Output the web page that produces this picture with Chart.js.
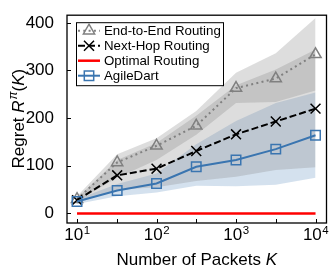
<!DOCTYPE html>
<html>
<head>
<meta charset="utf-8">
<script src="https://cdn.jsdelivr.net/npm/chart.js@4.4.1/dist/chart.umd.min.js"></script>
<style>
    body { margin: 0; background: #fff; }
    canvas { display: block; }
</style>
</head>
<body>
<canvas id="regretChart" width="335" height="269"></canvas>
<script>

// ------------------------
// Data
// ------------------------

const packets = [10, 32, 100, 316, 1000, 3162, 10000];

const seriesNames = ["End-to-End Routing", "Next-Hop Routing", "Optimal Routing", "AgileDart"];

const e2eMean = [30, 107, 142, 184, 263, 283, 334];
const e2eLow  = [26, 75, 112, 165, 232, 234, 258];
const e2eHigh = [36, 124, 158, 215, 295, 336, 410];

const nhMean = [28, 80, 94, 131, 166, 193, 220];
const nhLow  = [24, 50, 55, 68, 77, 91, 97];
const nhHigh = [32, 112, 148, 205, 269, 302, 344];

const optMean = [0, 0, 0, 0, 0, 0, 0];

const adMean = [25, 48, 63, 98, 112, 135, 164];
const adLow  = [20, 36, 44, 58, 57, 60, 75];
const adHigh = [30, 62, 84, 145, 194, 232, 254];

const yTicks = [0, 100, 200, 300, 400];
const xTicks = [10, 100, 1000, 10000];
const xTickExps = ["1", "2", "3", "4"];
const xMinorTicks = [32, 316, 3162];

// ------------------------
// Styles
// ------------------------

const FONT = "'Liberation Sans', Arial, sans-serif";
const GRAY = "#808080";
const BLUE = "#3a75b0";
const RED = "#ff0000";
const GRAY_BAND = "rgba(128,128,128,0.27)";
const BLUE_BAND = "rgba(58,117,176,0.22)";

function pts(ys) {
    return packets.map((k, i) => ({ x: k, y: ys[i] }));
}

function band(ys, fill, color) {
    return {
        data: pts(ys),
        fill: fill,
        backgroundColor: color,
        borderWidth: 0,
        pointRadius: 0
    };
}

// ------------------------
// Marker helpers (legend)
// ------------------------

function drawMarker(ctx, style, x, y, color) {
    ctx.save();
    ctx.setLineDash([]);
    ctx.strokeStyle = color;
    ctx.lineWidth = 1.5;
    ctx.beginPath();
    if (style === "triangle") {
        const r = 6.5;
        ctx.moveTo(x, y - r);
        ctx.lineTo(x + r * 0.866, y + r * 0.5);
        ctx.lineTo(x - r * 0.866, y + r * 0.5);
        ctx.closePath();
    } else if (style === "crossRot") {
        const r = 5;
        ctx.moveTo(x - r, y - r); ctx.lineTo(x + r, y + r);
        ctx.moveTo(x + r, y - r); ctx.lineTo(x - r, y + r);
    } else if (style === "rect") {
        const s = 4.7;
        ctx.rect(x - s, y - s, 2 * s, 2 * s);
    }
    ctx.stroke();
    ctx.restore();
}

// ------------------------
// Frame, ticks, titles, legend
// ------------------------

const decor = {

    id: "decor",

    afterDraw(chart) {

        const { ctx, chartArea: a, scales: { x, y } } = chart;

        ctx.save();

        // inward tick marks
        ctx.strokeStyle = "#000";
        ctx.lineWidth = 1;
        ctx.beginPath();
        yTicks.forEach(v => {
            const py = Math.round(y.getPixelForValue(v)) + 0.5;
            ctx.moveTo(a.left, py); ctx.lineTo(a.left + 4, py);
        });
        xTicks.concat(xMinorTicks).forEach(v => {
            const px = Math.round(x.getPixelForValue(v)) + 0.5;
            ctx.moveTo(px, a.bottom); ctx.lineTo(px, a.bottom - 4);
        });
        ctx.stroke();

        // frame
        ctx.lineWidth = 1.3;
        ctx.strokeRect(a.left, a.top, a.right - a.left, a.bottom - a.top);

        // x tick labels 10^n
        ctx.fillStyle = "#000";
        ctx.textBaseline = "alphabetic";
        ctx.textAlign = "left";
        xTicks.forEach((v, i) => {
            const px = x.getPixelForValue(v);
            ctx.font = `17px ${FONT}`;
            const wb = ctx.measureText("10").width;
            ctx.font = `11.5px ${FONT}`;
            const we = ctx.measureText(xTickExps[i]).width;
            const start = px - (wb + we) / 2;
            ctx.font = `17px ${FONT}`;
            ctx.fillText("10", start, a.bottom + 17);
            ctx.font = `11.5px ${FONT}`;
            ctx.fillText(xTickExps[i], start + wb + 0.5, a.bottom + 11);
        });

        // x title
        ctx.font = `17px ${FONT}`;
        const xt1 = "Number of Packets ";
        const w1 = ctx.measureText(xt1).width;
        ctx.font = `italic 17px ${FONT}`;
        const w2 = ctx.measureText("K").width;
        let sx = (a.left + a.right) / 2 - (w1 + w2) / 2;
        ctx.font = `17px ${FONT}`;
        ctx.fillText(xt1, sx, 265);
        ctx.font = `italic 17px ${FONT}`;
        ctx.fillText("K", sx + w1, 265);

        // y title, rotated
        const parts = [
            { t: "Regret ", f: `17px ${FONT}`, dy: 0 },
            { t: "R", f: `italic 17px ${FONT}`, dy: 0 },
            { t: "\u03c0", f: `italic 12px ${FONT}`, dy: -7 },
            { t: "(", f: `17px ${FONT}`, dy: 0 },
            { t: "K", f: `italic 17px ${FONT}`, dy: 0 },
            { t: ")", f: `17px ${FONT}`, dy: 0 }
        ];
        let total = 0;
        parts.forEach(p => { ctx.font = p.f; p.w = ctx.measureText(p.t).width; total += p.w; });
        ctx.save();
        ctx.translate(24, (a.top + a.bottom) / 2);
        ctx.rotate(-Math.PI / 2);
        let cx = -total / 2;
        parts.forEach(p => {
            ctx.font = p.f;
            ctx.fillText(p.t, cx, p.dy);
            cx += p.w + (p.t === "R" ? 1 : 0);
        });
        ctx.restore();

        // legend
        const lx = a.left + 9, ly = a.top + 7, lw = 147, lh = 63;
        ctx.fillStyle = "#fff";
        ctx.fillRect(lx, ly, lw, lh);
        ctx.strokeStyle = "#000";
        ctx.lineWidth = 1;
        ctx.strokeRect(lx + 0.5, ly + 0.5, lw, lh);

        const entries = [
            { color: GRAY, dash: [2, 3.3], marker: "triangle", width: 2 },
            { color: "#000", dash: [7, 3], marker: "crossRot", width: 2 },
            { color: RED, dash: [], marker: null, width: 2.5 },
            { color: BLUE, dash: [], marker: "rect", width: 2 }
        ];
        entries.forEach((e, i) => {
            const ey = ly + 8.5 + i * 15;
            ctx.save();
            ctx.strokeStyle = e.color;
            ctx.lineWidth = e.width;
            ctx.setLineDash(e.dash);
            ctx.beginPath();
            ctx.moveTo(lx + 2, ey); ctx.lineTo(lx + 24, ey);
            ctx.stroke();
            ctx.restore();
            if (e.marker) drawMarker(ctx, e.marker, lx + 13, ey, e.color);
            ctx.fillStyle = "#000";
            ctx.font = `13.3px ${FONT}`;
            ctx.textBaseline = "middle";
            ctx.fillText(seriesNames[i], lx + 28, ey + 0.5);
        });

        ctx.restore();
    }

};

// ------------------------
// Chart
// ------------------------

new Chart(document.getElementById("regretChart"), {

    type: "line",

    data: {

        datasets: [

            {
                label: seriesNames[3],
                data: pts(adMean),
                borderColor: BLUE,
                borderWidth: 2,
                fill: false,
                pointStyle: "rect",
                pointRadius: 6.7,
                pointBorderColor: BLUE,
                pointBorderWidth: 1.5,
                pointBackgroundColor: "rgba(0,0,0,0)"
            },

            {
                label: seriesNames[1],
                data: pts(nhMean),
                borderColor: "#000",
                borderWidth: 2,
                borderDash: [7, 3],
                fill: false,
                pointStyle: "crossRot",
                pointRadius: 7,
                pointBorderColor: "#000",
                pointBorderWidth: 1.5
            },

            {
                label: seriesNames[0],
                data: pts(e2eMean),
                borderColor: GRAY,
                borderWidth: 2,
                borderDash: [2, 3.3],
                fill: false,
                pointStyle: "triangle",
                pointRadius: 6.5,
                pointBorderColor: GRAY,
                pointBorderWidth: 1.5,
                pointBackgroundColor: "rgba(0,0,0,0)"
            },

            {
                label: seriesNames[2],
                data: pts(optMean),
                borderColor: RED,
                borderWidth: 2.5,
                fill: false,
                pointRadius: 0
            },

            band(e2eLow, false, GRAY_BAND),
            band(e2eHigh, "-1", GRAY_BAND),
            band(nhLow, false, GRAY_BAND),
            band(nhHigh, "-1", GRAY_BAND),
            band(adLow, false, BLUE_BAND),
            band(adHigh, "-1", BLUE_BAND)

        ]

    },

    options: {

        responsive: false,
        animation: false,
        layout: { padding: { top: 7, right: 1, left: 0, bottom: 0 } },

        plugins: {
            legend: { display: false },
            tooltip: { enabled: false },
            filler: { drawTime: "beforeDatasetsDraw" }
        },

        scales: {

            x: {
                type: "logarithmic",
                min: Math.pow(10, 0.874),
                max: Math.pow(10, 4.138),
                grid: { display: false },
                border: { display: false },
                ticks: { display: false },
                afterFit: s => { s.height = 46; }
            },

            y: {
                min: -20,
                max: 416,
                grid: { display: false },
                border: { display: false },
                afterBuildTicks: s => { s.ticks = yTicks.map(v => ({ value: v })); },
                ticks: {
                    color: "#000",
                    padding: 5,
                    font: { family: FONT, size: 17 }
                },
                afterFit: s => { s.width = 67; }
            }

        }

    },

    plugins: [decor]

});

</script>
</body>
</html>
